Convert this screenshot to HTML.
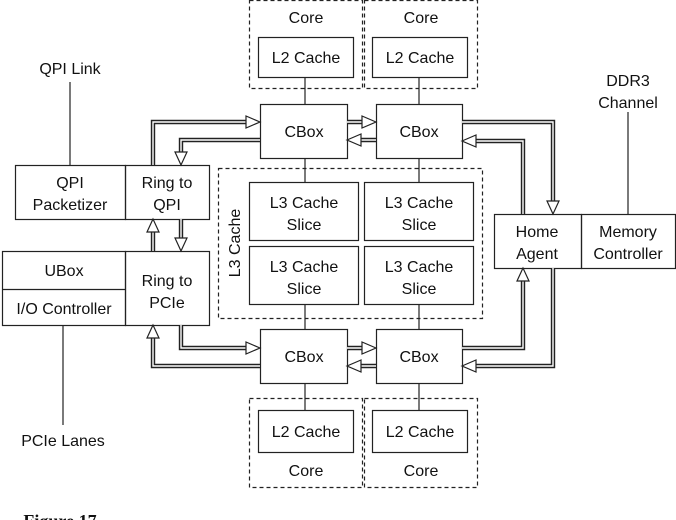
<!DOCTYPE html>
<html><head><style>
body{margin:0;background:#fff;}
svg{display:block;}
text{font-family:"Liberation Sans",sans-serif;font-size:16px;fill:#111;text-anchor:middle;}
</style></head><body>
<svg width="676" height="520" viewBox="0 0 676 520" xmlns="http://www.w3.org/2000/svg">
<g fill="none" stroke="#222" stroke-width="1.2">
<g stroke-dasharray="4,3">
<rect x="249.5" y="0.5" width="113" height="88"/>
<rect x="364.5" y="0.5" width="113" height="88"/>
<rect x="249.5" y="398.5" width="113" height="89"/>
<rect x="364.5" y="398.5" width="113" height="89"/>
<rect x="218.5" y="168.5" width="264" height="150"/>
</g>
<rect x="258.5" y="37.5" width="95" height="40"/>
<rect x="372.5" y="37.5" width="95" height="40"/>
<rect x="258.5" y="410.5" width="95" height="42"/>
<rect x="372.5" y="410.5" width="95" height="42"/>
<rect x="260.5" y="104.5" width="87" height="54"/>
<rect x="376.5" y="104.5" width="86" height="54"/>
<rect x="260.5" y="329.5" width="87" height="54"/>
<rect x="376.5" y="329.5" width="86" height="54"/>
<rect x="249.5" y="182.5" width="109" height="58"/>
<rect x="364.5" y="182.5" width="109" height="58"/>
<rect x="249.5" y="246.5" width="109" height="58"/>
<rect x="364.5" y="246.5" width="109" height="58"/>
<rect x="15.5" y="165.5" width="110" height="54"/>
<rect x="125.5" y="165.5" width="84" height="54"/>
<rect x="2.5" y="251.5" width="123" height="74"/>
<line x1="2" y1="289.5" x2="125" y2="289.5"/>
<rect x="125.5" y="251.5" width="84" height="74"/>
<rect x="494.5" y="214.5" width="87" height="54"/>
<rect x="581.5" y="214.5" width="94" height="54"/>
<line x1="305" y1="77" x2="305" y2="104"/><line x1="419" y1="77" x2="419" y2="104"/>
<line x1="305" y1="158" x2="305" y2="182"/><line x1="419" y1="158" x2="419" y2="182"/>
<line x1="305" y1="304" x2="305" y2="329"/><line x1="419" y1="304" x2="419" y2="329"/>
<line x1="305" y1="383" x2="305" y2="410"/><line x1="419" y1="383" x2="419" y2="410"/>
<line x1="70" y1="82" x2="70" y2="165"/>
<line x1="628" y1="112" x2="628" y2="214"/>
<line x1="63" y1="325" x2="63" y2="425"/>
</g>
<g fill="none" stroke-linejoin="miter">
<g stroke="#222" stroke-width="4.4">
<path d="M153 165V122H248"/><path d="M260 140H181V155"/>
<path d="M347 122H364"/><path d="M376 140H359"/>
<path d="M462 122H553V202"/><path d="M523 214V141H474"/>
<path d="M153 251V231"/><path d="M181 219V239"/>
<path d="M181 325V348H248"/><path d="M260 366H153V337"/>
<path d="M347 348H364"/><path d="M376 366H359"/>
<path d="M462 348H523V280"/><path d="M553 268V366H474"/>
</g>
<g stroke="#fff" stroke-width="1.4">
<path d="M153 165V122H248"/><path d="M260 140H181V155"/>
<path d="M347 122H364"/><path d="M376 140H359"/>
<path d="M462 122H553V202"/><path d="M523 214V141H474"/>
<path d="M153 251V231"/><path d="M181 219V239"/>
<path d="M181 325V348H248"/><path d="M260 366H153V337"/>
<path d="M347 348H364"/><path d="M376 366H359"/>
<path d="M462 348H523V280"/><path d="M553 268V366H474"/>
</g>
</g>
<g fill="#fff" stroke="#222" stroke-width="1.2">
<path d="M260 122l-14-6v12z"/><path d="M181 165l-6-13h12z"/>
<path d="M376 122l-14-6v12z"/><path d="M347 140l14-6v12z"/>
<path d="M553 214l-6-13h12z"/><path d="M462 141l14-6v12z"/>
<path d="M153 219l-6 13h12z"/><path d="M181 251l-6-13h12z"/>
<path d="M260 348l-14-6v12z"/><path d="M153 325l-6 13h12z"/>
<path d="M376 348l-14-6v12z"/><path d="M347 366l14-6v12z"/>
<path d="M523 268l-6 13h12z"/><path d="M462 366l14-6v12z"/>
</g>
<text x="306" y="23">Core</text><text x="421" y="23">Core</text>
<text x="306" y="63">L2 Cache</text><text x="420" y="63">L2 Cache</text>
<text x="306" y="437">L2 Cache</text><text x="420" y="437">L2 Cache</text>
<text x="306" y="476">Core</text><text x="421" y="476">Core</text>
<text x="304" y="137">CBox</text><text x="419" y="137">CBox</text>
<text x="304" y="362">CBox</text><text x="419" y="362">CBox</text>
<text x="304" y="208">L3 Cache</text><text x="304" y="230">Slice</text>
<text x="419" y="208">L3 Cache</text><text x="419" y="230">Slice</text>
<text x="304" y="272">L3 Cache</text><text x="304" y="294">Slice</text>
<text x="419" y="272">L3 Cache</text><text x="419" y="294">Slice</text>
<text x="0" y="0" transform="translate(240,243) rotate(-90)">L3 Cache</text>
<text x="70" y="188">QPI</text><text x="70" y="210">Packetizer</text>
<text x="167" y="188">Ring to</text><text x="167" y="210">QPI</text>
<text x="64" y="276">UBox</text><text x="64" y="314">I/O Controller</text>
<text x="167" y="286">Ring to</text><text x="167" y="308">PCIe</text>
<text x="537" y="237">Home</text><text x="537" y="259">Agent</text>
<text x="628" y="237">Memory</text><text x="628" y="259">Controller</text>
<text x="70" y="74">QPI Link</text>
<text x="628" y="86">DDR3</text><text x="628" y="108">Channel</text>
<text x="63" y="446">PCIe Lanes</text>
<text x="60" y="527" style="font-family:'Liberation Serif',serif;font-weight:bold;font-size:18px;">Figure 17</text>
</svg>
</body></html>
